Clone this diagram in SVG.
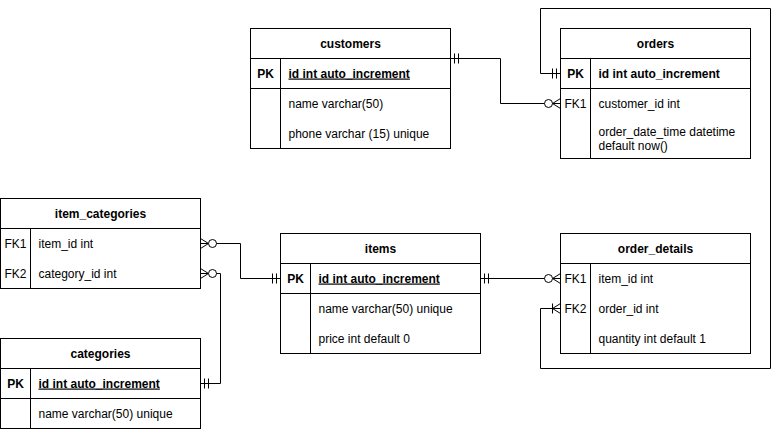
<svg xmlns="http://www.w3.org/2000/svg" xmlns:xlink="http://www.w3.org/1999/xlink" width="780" height="429" viewBox="0 0 780 429">
<style>
.box{fill:#fff;stroke:#000;stroke-width:1}
.ln{stroke:#000;stroke-width:1;fill:none}
text{font-family:"Liberation Sans",Arial,Helvetica,sans-serif;font-size:12px;fill:#000}
.t{font-weight:bold;text-anchor:middle}
.k{text-anchor:middle}
.kb{text-anchor:middle;font-weight:bold}
.b{font-weight:bold}
.u{text-decoration:underline}
</style>
<defs>
<g id="one"><path class="ln" d="M-4,-5V5M-8,-5V5"/></g>
<g id="zmany"><path class="ln" d="M-8,0L0,-5M-8,0L0,5M-8,0H0"/><circle cx="-12" cy="0" r="4" fill="#fff" stroke="#000"/></g>
<g id="omany"><path class="ln" d="M-8,-5V5M-8,0L0,-5M-8,0L0,5"/></g>
</defs>
<rect width="780" height="429" fill="#fff"/>
<g transform="translate(0.5,0.5)">
<g id="connectors">
<path class="ln" d="M450,58H500V103H560"/>
<path class="ln" d="M560,73H540V8H770V368H540V308H560"/>
<path class="ln" d="M480,278H560"/>
<path class="ln" d="M200,243H240V278H280"/>
<path class="ln" d="M200,273H220V383H200"/>
<use xlink:href="#one" transform="translate(450,58) scale(-1,1)"/>
<use xlink:href="#zmany" transform="translate(560,103)"/>
<use xlink:href="#one" transform="translate(560,73)"/>
<use xlink:href="#omany" transform="translate(560,308)"/>
<use xlink:href="#one" transform="translate(480,278) scale(-1,1)"/>
<use xlink:href="#zmany" transform="translate(560,278)"/>
<use xlink:href="#zmany" transform="translate(200,243) scale(-1,1)"/>
<use xlink:href="#one" transform="translate(280,278)"/>
<use xlink:href="#zmany" transform="translate(200,273) scale(-1,1)"/>
<use xlink:href="#one" transform="translate(200,383) scale(-1,1)"/>
</g>
<g id="customers">
<rect class="box" x="250" y="28" width="200" height="120"/>
<path class="ln" d="M250,58H450M250,88H450M280,58V148"/>
<text class="t" x="350" y="47">customers</text>
<text class="kb" x="265" y="77">PK</text>
<text class="b u" x="288" y="77">id int auto_increment</text>
<text x="288" y="107">name varchar(50)</text>
<text x="288" y="137">phone varchar (15) unique</text>
</g>
<g id="orders">
<rect class="box" x="560" y="28" width="190" height="130"/>
<path class="ln" d="M560,58H750M560,88H750M590,58V158"/>
<text class="t" x="655" y="47">orders</text>
<text class="kb" x="575" y="77">PK</text>
<text class="b" x="598" y="77">id int auto_increment</text>
<text class="k" x="575" y="107">FK1</text>
<text x="598" y="107">customer_id int</text>
<text x="598" y="135">order_date_time datetime</text>
<text x="598" y="149">default now()</text>
</g>
<g id="item_categories">
<rect class="box" x="0" y="198" width="200" height="90"/>
<path class="ln" d="M0,228H200M30,228V288"/>
<text class="t" x="100" y="217">item_categories</text>
<text class="k" x="15" y="247">FK1</text>
<text x="38" y="247">item_id int</text>
<text class="k" x="15" y="277">FK2</text>
<text x="38" y="277">category_id int</text>
</g>
<g id="items">
<rect class="box" x="280" y="233" width="200" height="120"/>
<path class="ln" d="M280,263H480M280,293H480M310,263V353"/>
<text class="t" x="380" y="252">items</text>
<text class="kb" x="295" y="282">PK</text>
<text class="b u" x="318" y="282">id int auto_increment</text>
<text x="318" y="312">name varchar(50) unique</text>
<text x="318" y="342">price int default 0</text>
</g>
<g id="order_details">
<rect class="box" x="560" y="233" width="190" height="120"/>
<path class="ln" d="M560,263H750M590,263V353"/>
<text class="t" x="655" y="252">order_details</text>
<text class="k" x="575" y="282">FK1</text>
<text x="598" y="282">item_id int</text>
<text class="k" x="575" y="312">FK2</text>
<text x="598" y="312">order_id int</text>
<text x="598" y="342">quantity int default 1</text>
</g>
<g id="categories">
<rect class="box" x="0" y="338" width="200" height="90"/>
<path class="ln" d="M0,368H200M0,398H200M30,368V428"/>
<text class="t" x="100" y="357">categories</text>
<text class="kb" x="15" y="387">PK</text>
<text class="b u" x="38" y="387">id int auto_increment</text>
<text x="38" y="417">name varchar(50) unique</text>
</g>
</g>
</svg>
